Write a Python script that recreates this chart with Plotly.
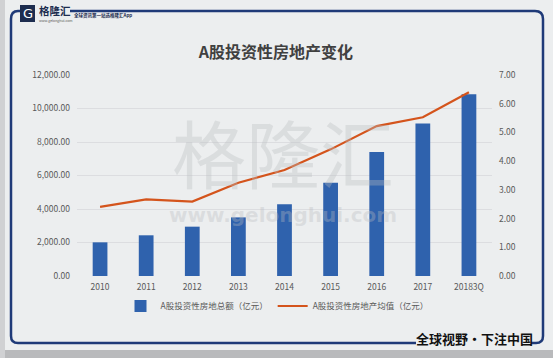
import plotly.graph_objects as go

categories = ["2010", "2011", "2012", "2013", "2014", "2015", "2016", "2017", "20183Q"]
total_values = [2010, 2430, 2945, 3500, 4280, 5570, 7400, 9110, 10850]
avg_values = [2.41, 2.67, 2.59, 3.25, 3.69, 4.41, 5.22, 5.53, 6.40]
left_ticks = [0, 2000, 4000, 6000, 8000, 10000, 12000]
right_ticks = [0, 1, 2, 3, 4, 5, 6, 7]

bar_name = "A股投资性房地总额（亿元）"
line_name = "A股投资性房地产均值（亿元）"
title_text = "<b>A股投资性房地产变化</b>"

font_family = "Noto Sans CJK SC, Noto Sans, sans-serif"

W, H = 553, 358
l, r, t, b = 77, 61, 75, 82
pw, ph = W - l - r, H - t - b


def px(x):
    return (x - l) / pw


def py(y):
    return (H - b - y) / ph


fig = go.Figure()
fig.add_trace(go.Bar(
    x=categories, y=total_values, name=bar_name,
    marker=dict(color="#2f62ad", line=dict(width=0)),
    yaxis="y",
))
fig.add_trace(go.Scatter(
    x=categories, y=avg_values, name=line_name, mode="lines",
    line=dict(color="#d4541c", width=2.2),
    yaxis="y2",
))

fig.update_layout(
    width=W, height=H,
    paper_bgcolor="#eceeef", plot_bgcolor="rgba(0,0,0,0)",
    margin=dict(l=l, r=r, t=t, b=b),
    bargap=0.68,
    font=dict(family=font_family, size=9, color="#595959"),
    title=dict(text=title_text, x=px(276), xanchor="center", y=1 - 52 / H, yanchor="middle",
               xref="paper", yref="container",
               font=dict(size=16, color="#404040", family=font_family)),
    xaxis=dict(showgrid=False, showline=False, ticks="", tickfont=dict(size=8.5, color="#595959"),
               zeroline=False, ticklabelstandoff=4),
    yaxis=dict(range=[0, 12000], tickvals=left_ticks, tickformat=",.2f",
               showgrid=True, gridcolor="#dcdde0", gridwidth=1, zeroline=False,
               showline=False, tickfont=dict(size=8.5, color="#595959"), ticklabelstandoff=6),
    yaxis2=dict(range=[0, 7], tickvals=right_ticks, tickformat=".2f", overlaying="y", side="right",
                showgrid=False, zeroline=False, showline=False,
                tickfont=dict(size=8.5, color="#595959"), ticklabelstandoff=6),
    legend=dict(orientation="h", x=px(277), xanchor="center", y=py(306), yanchor="middle",
                font=dict(size=8.5, color="#595959"), bgcolor="rgba(0,0,0,0)",
                itemwidth=30, tracegroupgap=0),
)

frame_path = (
    f"M {px(70)},{py(11)} L {px(535)},{py(11)} Q {px(543)},{py(11)} {px(543)},{py(19)} "
    f"L {px(543)},{py(336)} Q {px(543)},{py(343)} {px(536)},{py(343)} L {px(531)},{py(343)} "
    f"M {px(416)},{py(343)} L {px(18)},{py(343)} Q {px(11)},{py(343)} {px(11)},{py(336)} "
    f"L {px(11)},{py(19)} Q {px(11)},{py(11)} {px(18)},{py(11)} L {px(20)},{py(11)}"
)
fig.layout.shapes = [
    dict(type="rect", xref="paper", yref="paper", layer="below",
         x0=px(0), x1=px(W), y0=py(H), y1=py(350), fillcolor="#b9babc", line=dict(width=0)),
    dict(type="rect", xref="paper", yref="paper", layer="below",
         x0=px(0), x1=px(5), y0=py(H), y1=py(0), fillcolor="#d0d1d3", line=dict(width=0)),
    dict(type="path", xref="paper", yref="paper", layer="above", path=frame_path,
         line=dict(color="#1f3a78", width=2.5)),
    dict(type="rect", xref="paper", yref="paper", layer="above",
         x0=px(20), x1=px(35), y0=py(22), y1=py(5), fillcolor="#1d2d4f", line=dict(width=0)),
]

annotations = [
    dict(text="G", x=px(27.5), y=py(13.5), xref="paper", yref="paper", showarrow=False,
         font=dict(size=13, color="white", family="DejaVu Sans"), xanchor="center", yanchor="middle"),
    dict(text="<b>格隆汇</b>", x=px(37), y=py(11), xref="paper", yref="paper", showarrow=False,
         font=dict(size=10.5, color="#1d2d4f", family=font_family), xanchor="left", yanchor="middle"),
    dict(text="www.gelonghui.com", x=px(37), y=py(20), xref="paper", yref="paper", showarrow=False,
         font=dict(size=3.5, color="#555555"), xanchor="left", yanchor="middle"),
    dict(text="<b>全球资讯第一站选格隆汇App</b>", x=px(72), y=py(16), xref="paper", yref="paper", showarrow=False,
         font=dict(size=4.5, color="#1d2d4f", family=font_family), xanchor="left", yanchor="middle"),
    dict(text="格隆汇", x=px(283), y=py(150), xref="paper", yref="paper", showarrow=False,
         font=dict(size=74, color="rgba(185,188,192,0.35)", family=font_family),
         xanchor="center", yanchor="middle"),
    dict(text="<b>www.gelonghui.com</b>", x=px(283), y=py(215), xref="paper", yref="paper", showarrow=False,
         font=dict(size=20, color="rgba(185,188,192,0.35)", family="DejaVu Sans"),
         xanchor="center", yanchor="middle"),
    dict(text="<b>全球视野·下注中国</b>", x=px(474), y=py(338), xref="paper", yref="paper", showarrow=False,
         font=dict(size=13, color="#111111", family=font_family),
         xanchor="center", yanchor="middle"),
]
fig.update_layout(annotations=annotations)

fig.write_html(
    "out.html",
    config={"displayModeBar": False},
    post_script="document.body.style.margin='0';document.body.style.overflow='hidden';",
)
